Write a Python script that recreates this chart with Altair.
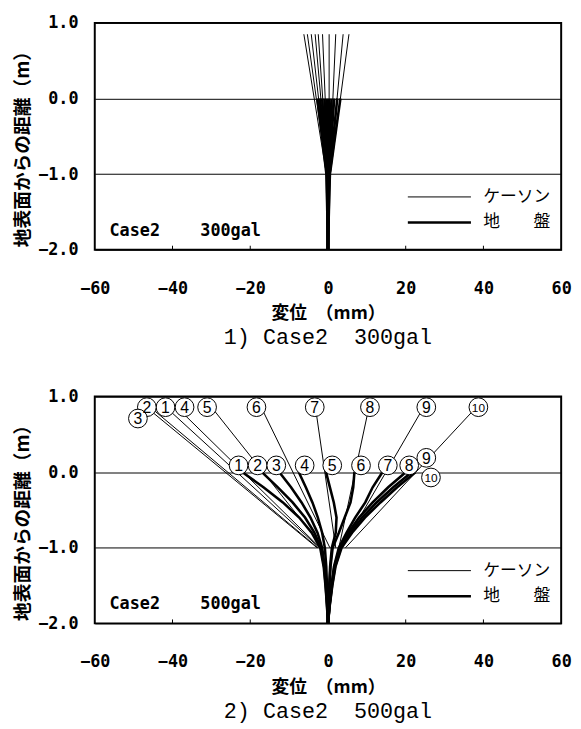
import altair as alt
import pandas as pd

# ---------------- data ----------------
X_TICKS = [-60, -40, -20, 0, 20, 40, 60]
Y_TICKS = [1.0, 0.0, -1.0, -2.0]
INNER_TICKS = [-40, -20, 20, 40]

CAISSON_Y = [0.85, -1.0]                      # top / bottom of caisson lines (m)
GROUND_DEPTHS = [0.0, -0.2, -0.4, -0.6, -0.8, -1.0, -1.25, -1.5, -1.75, -2.0]

# Case2 300gal
c300_top = [-6.2, -5.3, -4.3, -3.3, -2.5, -1.4, 0.3, 2.0, 3.9, 5.4]
c300_bot = [-0.4, -0.3, -0.2, -0.1, 0.0, 0.1, 0.3, 0.4, 0.5, 0.6]
g300 = [
    [-2.7, -2.24, -1.78, -1.32, -0.86, -0.4, -0.28, -0.18, -0.08, 0.0],
    [-2.1, -1.74, -1.38, -1.02, -0.66, -0.3, -0.21, -0.14, -0.06, 0.0],
    [-1.5, -1.24, -0.98, -0.72, -0.46, -0.2, -0.14, -0.09, -0.04, 0.0],
    [-0.9, -0.74, -0.58, -0.42, -0.26, -0.1, -0.07, -0.05, -0.02, 0.0],
    [-0.3, -0.24, -0.18, -0.12, -0.06, 0.0, 0.0, 0.0, 0.0, 0.0],
    [0.3, 0.26, 0.22, 0.18, 0.14, 0.1, 0.07, 0.05, 0.02, 0.0],
    [0.9, 0.76, 0.62, 0.48, 0.34, 0.2, 0.14, 0.09, 0.04, 0.0],
    [1.6, 1.34, 1.08, 0.82, 0.56, 0.3, 0.21, 0.14, 0.06, 0.0],
    [2.4, 2.0, 1.6, 1.2, 0.8, 0.4, 0.28, 0.18, 0.08, 0.0],
    [3.2, 2.66, 2.12, 1.58, 1.04, 0.5, 0.35, 0.23, 0.1, 0.0],
]

# Case2 500gal  (index k -> step number k+1)
c500_top = [-41.5, -45.5, -46.5, -38.7, -29.8, -17.1, -3.2, 10.5, 24.5, 38.0]
c500_bot = [-2.2, -2.6, -2.8, -2.0, -1.2, 0.5, 2.0, 2.8, 3.6, 4.5]
g500 = [
    [-22.0, -16.6, -11.6, -7.4, -4.2, -2.0, -1.1, -0.64, -0.28, 0.0],
    [-17.0, -12.9, -9.1, -5.9, -3.5, -1.8, -0.99, -0.58, -0.25, 0.0],
    [-12.5, -9.5, -6.8, -4.5, -2.7, -1.5, -0.83, -0.48, -0.21, 0.0],
    [-7.5, -5.7, -4.0, -2.6, -1.5, -0.8, -0.44, -0.26, -0.11, 0.0],
    [-0.5, 0.5, 1.5, 2.2, 2.0, 1.0, 0.55, 0.32, 0.14, 0.0],
    [6.8, 6.5, 5.8, 4.3, 2.8, 1.2, 0.66, 0.38, 0.17, 0.0],
    [14.0, 11.5, 9.6, 7.0, 4.8, 2.8, 1.54, 0.9, 0.39, 0.0],
    [20.0, 15.5, 11.5, 8.0, 5.2, 3.0, 1.65, 0.96, 0.42, 0.0],
    [21.5, 16.8, 12.5, 8.8, 5.7, 3.3, 1.82, 1.06, 0.46, 0.0],
    [22.5, 17.8, 13.5, 9.5, 6.2, 3.5, 1.93, 1.12, 0.49, 0.0],
]
STEP_NUMBERS = ["1", "2", "3", "4", "5", "6", "7", "8", "9", "10"]
cl500_x = [-41.8, -46.6, -48.9, -36.9, -31.1, -18.4, -3.4, 10.8, 25.3, 38.7]
cl500_y = [0.86, 0.86, 0.71, 0.86, 0.86, 0.86, 0.86, 0.86, 0.86, 0.86]
gl500_x = [-23.0, -18.1, -13.3, -6.0, 1.1, 8.5, 15.4, 20.9, 25.3, 26.5]
gl500_y = [0.09, 0.09, 0.09, 0.09, 0.09, 0.09, 0.09, 0.09, 0.19, -0.07]

KINDS = ["ケーソン", "地　　盤"]
CAPTIONS = ["1)\u00a0Case2\u00a0\u00a0300gal", "2)\u00a0Case2\u00a0\u00a0500gal"]
ANNOTS = ["Case2\u00a0\u00a0\u00a0\u00a0300gal", "Case2\u00a0\u00a0\u00a0\u00a0500gal"]
ANNOT_POS = [-56.2, -1.75]

# ---------------- styling ----------------
W, H = 473, 230
FONT_NUM = "DejaVu Sans Mono"
FONT_JP = "Noto Sans CJK JP"


def lines_frame(c_top, c_bot, ground):
    rows = []
    for k, (t, b) in enumerate(zip(c_top, c_bot)):
        rows.append(dict(line=f"c{k}", kind=KINDS[0], i=0, x=t, y=CAISSON_Y[0]))
        rows.append(dict(line=f"c{k}", kind=KINDS[0], i=1, x=b, y=CAISSON_Y[1]))
    for k, xs in enumerate(ground):
        for i, (xv, yv) in enumerate(zip(xs, GROUND_DEPTHS)):
            rows.append(dict(line=f"g{k}", kind=KINDS[1], i=i, x=xv, y=yv))
    return pd.DataFrame(rows)


X = alt.X(
    "x:Q",
    scale=alt.Scale(domain=[-60, 60], nice=False, zero=False),
    axis=alt.Axis(
        values=X_TICKS, format="d", title="変位　（mm）", grid=False, domain=False,
        ticks=False, labelPadding=31, labelFont=FONT_NUM, labelFontSize=17,
        labelFontWeight="bold", labelColor="black", labelFlush=False,
        titleFont=FONT_JP, titleFontSize=18, titleFontWeight="bold",
        titleColor="black", titlePadding=9,
    ),
)
Y = alt.Y(
    "y:Q",
    scale=alt.Scale(domain=[-2, 1], nice=False, zero=False),
    axis=alt.Axis(
        values=Y_TICKS, format=".1f", title="地表面からの距離（m）", grid=True,
        gridColor="black", gridWidth=1, gridOpacity=1, domain=False, ticks=False,
        labelPadding=17, labelFont=FONT_NUM, labelFontSize=17,
        labelFontWeight="bold", labelColor="black",
        titleFont=FONT_JP, titleFontSize=19, titleFontWeight="bold",
        titleColor="black", titlePadding=5, titleY=123,
    ),
)


def panel(c_top, c_bot, ground, caption, annot, labels=None):
    df = lines_frame(c_top, c_bot, ground)
    lines = alt.Chart(df).mark_line(color="black", strokeCap="butt").encode(
        x=X, y=Y, detail="line:N", order="i:Q",
        strokeWidth=alt.StrokeWidth(
            "kind:N",
            scale=alt.Scale(type="ordinal", domain=KINDS, range=[1, 2.6]),
            legend=alt.Legend(
                orient="none", legendX=340, legendY=168, title=None,
                symbolType="M-4,0L4,0", symbolSize=256,
                symbolStrokeColor="black", symbolFillColor="transparent",
                labelFont=FONT_JP, labelFontSize=17, labelColor="black",
                labelOffset=35, rowPadding=8, labelLimit=0, padding=0,
            ),
        ),
    )
    ticks = alt.Chart(pd.DataFrame({"x": INNER_TICKS})).mark_rule(
        color="black", strokeWidth=1
    ).encode(x=X, y=alt.value(H), y2=alt.value(H - 4))
    ann = alt.Chart(
        pd.DataFrame({"x": [ANNOT_POS[0]], "y": [ANNOT_POS[1]], "t": [annot]})
    ).mark_text(
        align="left", baseline="middle", font=FONT_NUM, fontSize=17,
        fontWeight="bold", color="black",
    ).encode(x=X, y=Y, text="t:N")
    layers = [lines, ticks, ann]
    if labels is not None:
        ldf = pd.DataFrame(labels)
        circ = alt.Chart(ldf).mark_point(
            shape="circle", filled=True, fill="white", stroke="black",
            strokeWidth=1, size=360, opacity=1,
        ).encode(x=X, y=Y)
        txt = alt.Chart(ldf).mark_text(
            font="Liberation Sans", color="black", fill="black", baseline="middle", dy=1,
        ).encode(x=X, y=Y, text="n:N", size=alt.Size("fs:Q", scale=None, legend=None))
        layers += [circ, txt]
    return alt.layer(*layers).properties(
        width=W, height=H,
        title=alt.TitleParams(
            caption, orient="bottom", anchor="middle", frame="group",
            font="Liberation Mono", fontSize=22, fontWeight="normal",
            color="black", offset=5,
        ),
    )


fs = [16 if len(n) == 1 else 12 for n in STEP_NUMBERS]
labels500 = {
    "x": cl500_x + gl500_x,
    "y": cl500_y + gl500_y,
    "n": STEP_NUMBERS + STEP_NUMBERS,
    "fs": fs + fs,
}

top = panel(c300_top, c300_bot, g300, CAPTIONS[0], ANNOTS[0])
bottom = panel(c500_top, c500_bot, g500, CAPTIONS[1], ANNOTS[1], labels500)

chart = (
    alt.vconcat(top, bottom, spacing=38)
    .resolve_scale(strokeWidth="independent")
    .resolve_legend(strokeWidth="independent")
    .configure_view(stroke="black", strokeWidth=2)
    .properties(padding={"left": 5, "top": 0, "right": 0, "bottom": 0}, background="white")
)

chart.save("out.html", embed_options={"renderer": "svg", "actions": False})
